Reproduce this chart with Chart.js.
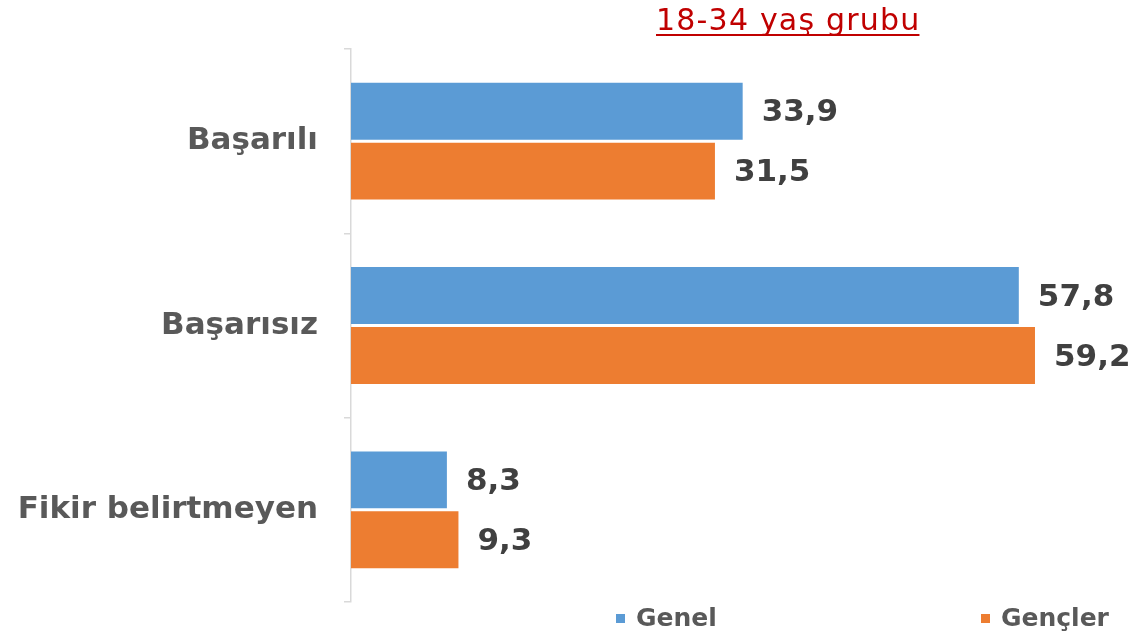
<!DOCTYPE html>
<html>
<head>
<meta charset="utf-8">
<script src="https://cdn.jsdelivr.net/npm/chart.js@4/dist/chart.umd.min.js"></script>
<style>
html,body{margin:0;padding:0;background:#fff;}
#wrap{width:1136px;height:637px;position:relative;}
</style>
</head>
<body>
<div id="wrap"><canvas id="c" width="1136" height="637"></canvas></div>
<script>
const categories = ["Başarılı", "Başarısız", "Fikir belirtmeyen"];
const genel = [33.9, 57.8, 8.3];
const gencler = [31.5, 59.2, 9.3];
const seriesNames = ["Genel", "Gençler"];
const titleText = "18-34 yaş grubu";

const FONT = "'DejaVu Sans', Verdana, sans-serif";

const fmt = v => v.toFixed(1).replace('.', ',');

const overlay = {
  id: 'overlay',
  afterDraw(chart) {
    const ctx = chart.ctx;
    ctx.save();
    // data labels
    ctx.font = "bold 31px " + FONT;
    ctx.fillStyle = "#404040";
    ctx.textAlign = "left";
    ctx.textBaseline = "middle";
    chart.data.datasets.forEach((ds, di) => {
      const meta = chart.getDatasetMeta(di);
      meta.data.forEach((bar, i) => {
        ctx.fillText(fmt(ds.data[i]), bar.x + 19, bar.y + 2);
      });
    });
    // title
    ctx.font = "30px " + FONT;
    ctx.letterSpacing = "1.2px";
    ctx.fillStyle = "#C00000";
    ctx.textBaseline = "alphabetic";
    const tx = 656, ty = 30;
    ctx.fillText(titleText, tx, ty);
    const w = ctx.measureText(titleText).width;
    ctx.fillRect(tx, 34, w - 1, 2);
    ctx.letterSpacing = "0px";
    // legend
    ctx.font = "bold 25px " + FONT;
    ctx.fillStyle = "#595959";
    ctx.textBaseline = "middle";
    const pos = [616, 981];
    chart.data.datasets.forEach((ds, di) => {
      ctx.fillStyle = ds.backgroundColor;
      ctx.fillRect(pos[di], 614, 9, 9);
      ctx.fillStyle = "#595959";
      ctx.fillText(ds.label, pos[di] + 20, 619);
    });
    ctx.restore();
  }
};

new Chart(document.getElementById('c'), {
  type: 'bar',
  data: {
    labels: categories,
    datasets: [
      { label: seriesNames[0], data: genel, backgroundColor: '#5B9BD5', categoryPercentage: 0.65, barPercentage: 0.95 },
      { label: seriesNames[1], data: gencler, backgroundColor: '#ED7D31', categoryPercentage: 0.65, barPercentage: 0.95 }
    ]
  },
  options: {
    indexAxis: 'y',
    responsive: false,
    animation: false,
    layout: { padding: { top: 49, bottom: 35, left: 0, right: 34 } },
    plugins: { legend: { display: false }, tooltip: { enabled: false }, title: { display: false } },
    scales: {
      x: { display: false, min: 0, max: 65 },
      y: {
        afterFit(scale) { scale.width = 351; scale.paddingTop = 0; scale.paddingBottom = 0; },
        grid: { drawOnChartArea: false, color: '#D9D9D9', tickLength: 7, lineWidth: 1.5 },
        border: { color: '#D9D9D9', width: 1.5 },
        ticks: { color: '#595959', font: { family: FONT, size: 31, weight: 'bold' }, padding: 26 }
      }
    }
  },
  plugins: [overlay]
});
</script>
</body>
</html>
